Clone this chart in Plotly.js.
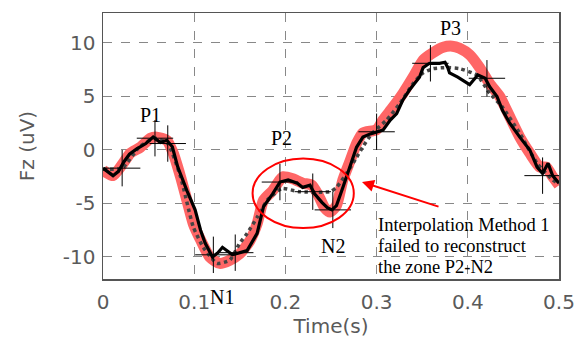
<!DOCTYPE html>
<html><head><meta charset="utf-8">
<script src="https://cdn.plot.ly/plotly-3.0.1.min.js"></script>
<style>html,body{margin:0;padding:0;background:#fff}#chart{width:582px;height:340px}</style>
</head><body><div id="chart"></div>
<script>
// Original signal (thick red)
const origT = [0.000,0.011,0.022,0.030,0.041,0.052,0.059,0.070,0.077,0.085,0.092,0.099,0.107,0.117,0.128,0.139,0.150,0.161,0.169,0.176,0.186,0.194,0.198,0.208,0.219,0.229,0.236,0.243,0.249,0.256,0.263,0.271,0.278,0.285,0.300,0.307,0.318,0.329,0.340,0.351,0.362,0.373,0.383,0.391,0.402,0.413,0.424,0.435,0.446,0.457,0.468,0.479,0.486,0.493,0.500];
const origV = [-1.9,-2.4,-1.25,-0.3,0.25,1.1,1.2,0.9,-0.3,-2.5,-4.7,-6.9,-8.4,-10.0,-10.6,-10.3,-9.7,-8.5,-6.9,-4.7,-3.8,-2.8,-2.5,-2.7,-3.1,-3.3,-4.2,-5.4,-5.8,-5.2,-2.8,-1.0,0.6,1.6,1.9,2.8,4.0,5.3,6.8,8.4,9.1,9.6,9.7,9.5,8.9,7.7,6.2,5.0,3.1,1.2,-0.3,-1.6,-1.6,-2.5,-3.3];
// Reconstructed signal (black)
const recT = [0.000,0.011,0.017,0.023,0.029,0.037,0.047,0.055,0.063,0.070,0.076,0.082,0.092,0.101,0.107,0.112,0.120,0.126,0.131,0.142,0.158,0.169,0.176,0.186,0.194,0.203,0.213,0.219,0.227,0.232,0.240,0.246,0.251,0.256,0.263,0.271,0.278,0.285,0.293,0.307,0.315,0.322,0.329,0.336,0.347,0.351,0.358,0.369,0.375,0.378,0.380,0.389,0.399,0.402,0.411,0.419,0.424,0.432,0.438,0.446,0.457,0.468,0.476,0.482,0.488,0.493,0.500];
const recV = [-1.7,-2.4,-2.0,-1.1,-0.4,0.1,0.6,1.2,0.7,0.9,0.3,-1.6,-3.8,-5.6,-7.5,-8.7,-10.0,-9.6,-9.1,-9.8,-9.4,-7.8,-5.3,-4.1,-3.0,-2.8,-3.1,-3.5,-3.3,-4.1,-4.9,-5.4,-5.6,-5.2,-3.5,-1.6,0.25,1.2,1.5,1.85,2.8,3.4,4.7,5.6,6.8,7.7,8.1,8.1,8.2,7.7,7.2,6.8,6.3,6.1,7.0,6.7,5.9,5.0,3.7,2.5,1.2,0.0,-1.6,-2.2,-1.25,-2.4,-3.1];
// Interpolation method 1 (dotted)
const intT = [0.000,0.021,0.040,0.057,0.071,0.085,0.099,0.110,0.125,0.139,0.150,0.158,0.169,0.180,0.196,0.215,0.249,0.256,0.267,0.278,0.285,0.295,0.311,0.326,0.340,0.351,0.362,0.377,0.391,0.410,0.424,0.438,0.457,0.476,0.493,0.500];
const intV = [-1.8,-1.7,0.3,1.1,0.6,-2.5,-7.2,-9.1,-10.6,-10.3,-8.7,-7.8,-6.3,-4.7,-3.6,-3.9,-3.9,-3.5,-2.2,-0.7,0.3,1.55,2.8,4.4,6.2,7.2,7.6,7.7,7.6,7.0,5.3,4.0,1.55,-1.25,-2.8,-3.2];
// Sample points (crosses)
const sampT = [0.021,0.057,0.071,0.121,0.145,0.194,0.230,0.252,0.300,0.359,0.421,0.482];
const sampV = [-1.7,1.1,0.6,-9.8,-9.6,-3.0,-3.9,-5.6,1.7,8.1,6.7,-2.4];
const xTicks = [0,0.1,0.2,0.3,0.4,0.5];
const xTickText = ['0','0.1','0.2','0.3','0.4','0.5'];
const yTicks = [-10,-5,0,5,10];
const yTickText = ['-10','-5','0','5','10'];
const noteLines = ['Interpolation Method 1','failed to reconstruct','the zone P2-N2'];

const traces = [
  {x: origT, y: origV, mode:'lines', line:{color:'rgb(255,102,102)', width:11, shape:'spline', smoothing:0.6}, hoverinfo:'skip'},
  {x: intT, y: intV, mode:'lines', line:{color:'#444', width:3.5, dash:'dot', shape:'spline', smoothing:0.5}, hoverinfo:'skip'},
  {x: recT, y: recV, mode:'lines', line:{color:'#000', width:3.2}, hoverinfo:'skip'},
  {x: sampT, y: sampV, mode:'markers', marker:{symbol:'cross-thin', size:26, line:{color:'#000', width:1}}, hoverinfo:'skip'}
];

const serif = {family:'Liberation Serif, Times New Roman, serif', size:20, color:'#000'};
const sansTick = {family:'DejaVu Sans', size:20, color:'#5a5a5a'};
const noteY = [-7.0, -8.95, -10.9];
const annotations = [
  {x:0.052, y:3.3, text:'P1', showarrow:false, font:serif},
  {x:0.196, y:1.1, text:'P2', showarrow:false, font:serif},
  {x:0.381, y:11.4, text:'P3', showarrow:false, font:serif},
  {x:0.131, xref:'x', y:-0.067, yref:'paper', yanchor:'middle', text:'N1', showarrow:false, font:serif},
  {x:0.252, y:-9.0, text:'N2', showarrow:false, font:serif},
  {x:0.284, y:-3.0, text:'', showarrow:true, arrowhead:2, arrowsize:1.2, arrowwidth:2, arrowcolor:'#ff0000', ax:78, ay:25, standoff:0}
];
noteLines.forEach((t,i)=>annotations.push({x:0.2995, y:noteY[i], xanchor:'left', yanchor:'middle', align:'left', showarrow:false, text:t,
  font:{family:'Liberation Serif, Times New Roman, serif', size:18.5, color:'#000'}}));

const layout = {
  width:582, height:340,
  margin:{l:102.7, r:22.7, t:13, b:61.3},
  paper_bgcolor:'#fff', plot_bgcolor:'#fff',
  showlegend:false,
  xaxis:{range:[0,0.5], tickvals:xTicks, ticktext:xTickText, showgrid:true, gridcolor:'#888', griddash:'dash', gridwidth:1,
    zeroline:false, showline:true, linecolor:'#555', linewidth:1.5, mirror:true, ticks:'', ticklabelstandoff:4,
    tickfont:sansTick,
    title:{text:'Time(s)', font:sansTick, standoff:5}},
  yaxis:{range:[-12.06,12.8], tickvals:yTicks, ticktext:yTickText, showgrid:true, gridcolor:'#888', griddash:'dash', gridwidth:1,
    zeroline:false, showline:true, linecolor:'#555', linewidth:1.5, mirror:true, ticks:'', ticklabelstandoff:2,
    tickfont:sansTick,
    title:{text:'Fz (uV)', font:sansTick, standoff:23}},
  shapes:[
    {type:'circle', xref:'x', yref:'y', x0:0.164, x1:0.275, y0:-7.3, y1:-0.8, line:{color:'#ff0000', width:2}}
  ],
  annotations: annotations
};
Plotly.newPlot('chart', traces, layout, {staticPlot:true, displayModeBar:false});
</script></body></html>
